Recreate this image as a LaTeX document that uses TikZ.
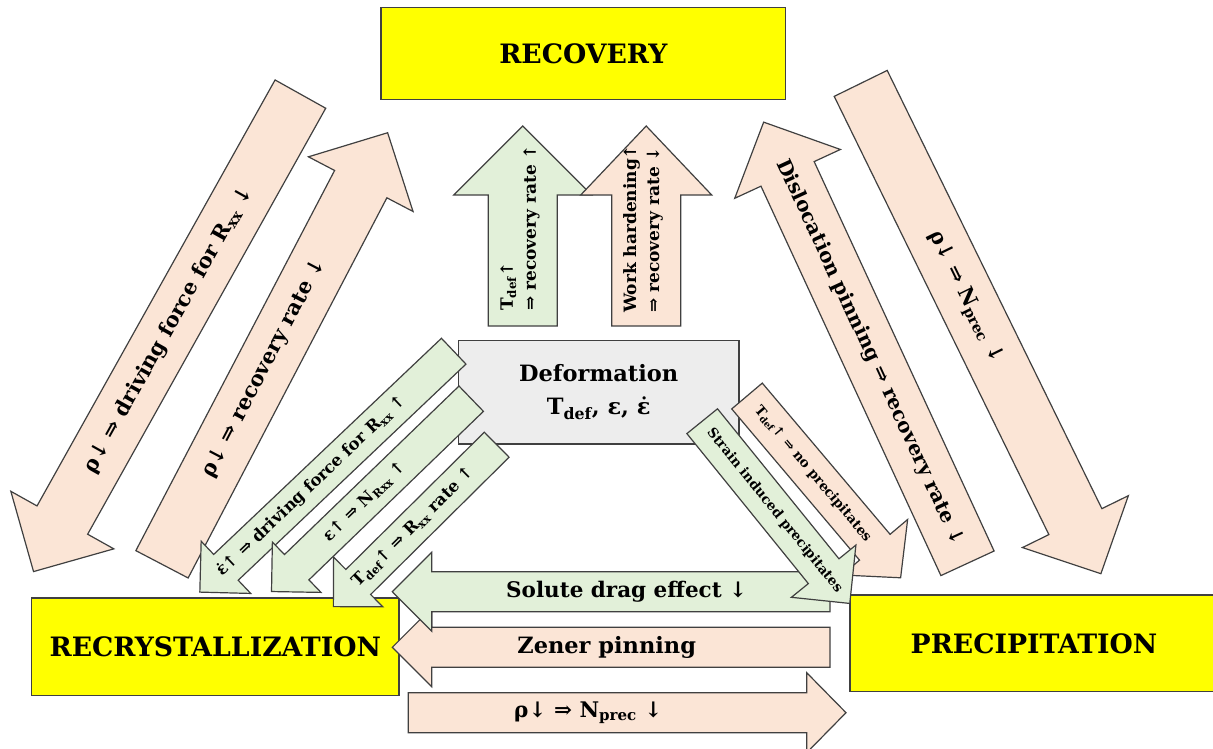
\documentclass[tikz,border=0pt]{standalone}
\usepackage{fontspec}
\setmainfont{DejaVu Serif}
\definecolor{pinkf}{HTML}{FBE5D6}
\definecolor{greenf}{HTML}{E2F0D9}
\definecolor{yel}{HTML}{FFFF00}
\definecolor{grayf}{HTML}{EDEDED}
\definecolor{edgec}{HTML}{404040}
% #1 style, #2 total length, #3 half shaft width, #4 half head width, #5 head length
\newcommand\arrowbody[5]{\draw[#1] (0,-#3) -- ({#2-#5},-#3) -- ({#2-#5},-#4) -- (#2,0) -- ({#2-#5},#4) -- ({#2-#5},#3) -- (0,#3) -- cycle;}
\newcommand\setfs[1]{\fontsize{#1}{#1}\selectfont}
\newcommand\sub[1]{\textsubscript{#1}}
\begin{document}
\begin{tikzpicture}[x=1pt,y=-1pt,line join=miter,
  pinkarr/.style={draw=edgec,fill=pinkf,line width=1.2pt},
  greenarr/.style={draw=edgec,fill=greenf,line width=1.2pt},
  ybox/.style={draw=edgec,fill=yel,line width=1.3pt,inner sep=0pt,font=\setfs{26.7}\bfseries},
  gbox/.style={draw=edgec,fill=grayf,line width=1.3pt,inner sep=0pt,align=center,font=\setfs{22.5}\bfseries},
  bigtxt/.style={inner sep=0pt,font=\setfs{21}\bfseries},
  midtxt/.style={inner sep=0pt,font=\setfs{16.5}\bfseries},
  vtxt/.style={inner sep=0pt,align=left,font=\setfs{17}\bfseries},
  smalltxt/.style={inner sep=0pt,font=\setfs{13.5}\bfseries},
  bottxt/.style={inner sep=0pt,font=\setfs{21.5}\bfseries}]
\useasboundingbox (0,0) rectangle (1213,749);

% boxes
\node[ybox,minimum width=404.7pt,minimum height=92pt] (recovery) at (583.3,53.3) {RECOVERY};
\node[ybox,minimum width=367.3pt,minimum height=97.5pt] (recryst) at (215.3,646.8) {RECRYSTALLIZATION};
\path[ybox] (850,595) rectangle (1218,691.7);
\node[inner sep=0pt,font=\setfs{26.7}\bfseries] (precip) at (1034,643.3) {PRECIPITATION};
\node[gbox,minimum width=280.7pt,minimum height=103.7pt] (deform) at (598.7,392) {Deformation\\[11pt]T\sub{def}, ε, ε̇};

% A1
\begin{scope}[shift={(300.4,94.1)},rotate=240.8]
  \arrowbody{pinkarr}{547}{29}{59}{59}
  \node[bigtxt,rotate=60.8] (t1) at (270,0) {ρ↓ ⇒ driving force for R\sub{xx} ↓};
\end{scope}
% A2
\begin{scope}[shift={(162,564.3)},rotate=62.4]
  \arrowbody{pinkarr}{487}{29.5}{59}{58}
  \node[bigtxt,rotate=62.4] (t2) at (221,0) {ρ↓ ⇒ recovery rate ↓};
\end{scope}
% A3
\begin{scope}[shift={(522.8,326)},rotate=90]
  \arrowbody{greenarr}{200}{34.5}{69}{69}
\end{scope}
\node[vtxt,rotate=90,anchor=west] (t3) at (520,311) {T\sub{def}↑\\[6pt]⇒ recovery rate ↑};
% A4
\begin{scope}[shift={(646.2,326)},rotate=90]
  \arrowbody{pinkarr}{200}{34.5}{65.5}{69}
\end{scope}
\node[vtxt,rotate=90,anchor=west] (t4) at (643,313) {Work hardening↑\\[6pt]⇒ recovery rate ↓};
% A5
\begin{scope}[shift={(967.5,563.3)},rotate=114.8]
  \arrowbody{pinkarr}{486}{29.3}{58.2}{57}
  \node[bigtxt,font=\setfs{20}\bfseries,rotate=-65.2] (t5) at (232,0) {Dislocation pinning ⇒ recovery rate ↓};
\end{scope}
% A6
\begin{scope}[shift={(860.7,83.4)},rotate=-63.9]
  \arrowbody{pinkarr}{546}{29.5}{59}{58}
  \node[bigtxt,rotate=-63.9] (t6) at (238,0) {ρ↓ ⇒ N\sub{prec} ↓};
\end{scope}
% A7
\begin{scope}[shift={(453.7,351.2)},rotate=223.5]
  \arrowbody{greenarr}{350}{17.8}{36}{36}
  \node[midtxt,rotate=43.5] (t7) at (196,0) {ε̇↑ ⇒ driving force for R\sub{xx} ↑};
\end{scope}
% A8
\begin{scope}[shift={(471.2,398.7)},rotate=224]
  \arrowbody{greenarr}{277.6}{17.6}{35}{35}
  \node[midtxt,rotate=44] (t8) at (148,0) {ε↑ ⇒ N\sub{Rxx} ↑};
\end{scope}
% A9
\begin{scope}[shift={(496.7,444.7)},rotate=224.75]
  \arrowbody{greenarr}{230}{17.6}{35}{35}
  \node[midtxt,rotate=44.75] (t9) at (117,0) {T\sub{def}↑ ⇒ R\sub{xx} rate ↑};
\end{scope}
% A13 Zener
\begin{scope}[shift={(830,647.3)},rotate=180]
  \arrowbody{pinkarr}{437.7}{20}{39.4}{39.4}
  \node[bottxt,font=\setfs{22.5}\bfseries] (t13) at (223.3,0) {Zener pinning};
\end{scope}
% A12 Solute drag
\begin{scope}[shift={(830,591.7)},rotate=180]
  \arrowbody{greenarr}{437.7}{20}{39.5}{39.4}
  \node[bottxt] (t12) at (203.3,0) {Solute drag effect ↓};
\end{scope}
% A14
\begin{scope}[shift={(408.3,712.7)},rotate=0]
  \arrowbody{pinkarr}{437.7}{20}{40}{39.3}
  \node[bottxt] (t14) at (180,0) {ρ↓ ⇒ N\sub{prec} ↓};
\end{scope}
% A10
\begin{scope}[shift={(747,396)},rotate=-49.8]
  \arrowbody{pinkarr}{238}{20}{43}{40}
  \node[smalltxt,rotate=-49.8] (t10) at (102,0) {T\sub{def}↑ ⇒ no precipitates};
\end{scope}
% A11
\begin{scope}[shift={(702.2,421.2)},rotate=-51]
  \arrowbody{greenarr}{234.5}{19.7}{41.5}{41.5}
  \node[smalltxt,rotate=-51] (t11) at (115,0) {Strain induced precipitates};
\end{scope}
\end{tikzpicture}
\end{document}
